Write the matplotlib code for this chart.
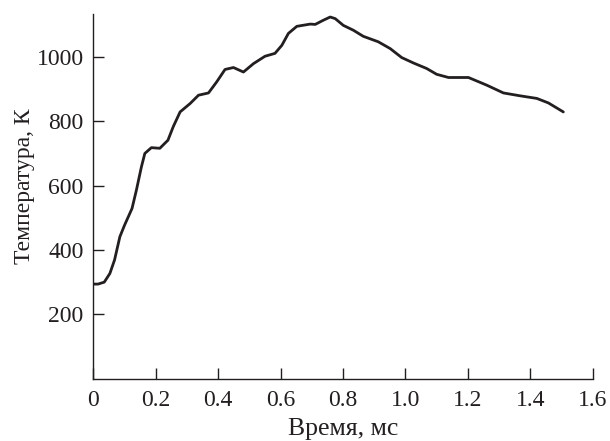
import matplotlib
matplotlib.use("Agg")
import matplotlib.pyplot as plt

# Data
time_ms = [0.0, 0.015, 0.035, 0.053, 0.068, 0.085, 0.10, 0.124, 0.138, 0.154, 0.165,
           0.186, 0.213, 0.239, 0.256, 0.278, 0.31, 0.337, 0.369, 0.395, 0.422,
           0.449, 0.481, 0.513, 0.55, 0.582, 0.604, 0.625, 0.652, 0.695, 0.711,
           0.737, 0.759, 0.775, 0.801, 0.833, 0.865, 0.913, 0.951, 0.988, 1.026,
           1.068, 1.10, 1.138, 1.175, 1.202, 1.261, 1.314, 1.368, 1.421, 1.458, 1.506]
temp_K = [294, 294, 300, 327, 369, 441, 477, 529, 586, 658, 700,
          718, 716, 741, 783, 829, 855, 881, 888, 922, 961,
          967, 953, 979, 1002, 1011, 1036, 1073, 1095, 1102, 1101,
          1114, 1124, 1119, 1098, 1083, 1064, 1047, 1026, 998, 981,
          964, 946, 936, 936, 936, 912, 888, 879, 871, 857, 829]

xticks = [0, 0.2, 0.4, 0.6, 0.8, 1.0, 1.2, 1.4, 1.6]
xtick_labels = ["0", "0.2", "0.4", "0.6", "0.8", "1.0", "1.2", "1.4", "1.6"]
yticks = [200, 400, 600, 800, 1000]

plt.rcParams['font.family'] = ['Liberation Serif', 'DejaVu Serif']
ink = '#231f20'

fig = plt.figure(figsize=(6.1, 4.41), dpi=100)
ax = fig.add_axes([0.153, 0.1413, 0.8186, 0.8267])

ax.plot(time_ms, temp_K, color=ink, lw=2.0, solid_capstyle='round',
        solid_joinstyle='round')

ax.set_xlim(0, 1.6)
ax.set_ylim(0, 1133)
ax.set_xticks(xticks)
ax.set_xticklabels(xtick_labels)
ax.set_yticks(yticks)

for side in ['top', 'right']:
    ax.spines[side].set_visible(False)
for side in ['left', 'bottom']:
    ax.spines[side].set_color(ink)
    ax.spines[side].set_linewidth(1.0)

ax.tick_params(direction='in', length=8, width=1.0, color=ink,
               labelsize=17, labelcolor=ink)
ax.tick_params(axis='x', pad=8)
ax.tick_params(axis='y', pad=7)

ax.set_xlabel('Время, мс', fontsize=18.5, color=ink, labelpad=5)
ax.set_ylabel('Температура, К', fontsize=17, color=ink)
ax.yaxis.set_label_coords(-0.117, 0.528)

fig.savefig('out.png', dpi=100)
